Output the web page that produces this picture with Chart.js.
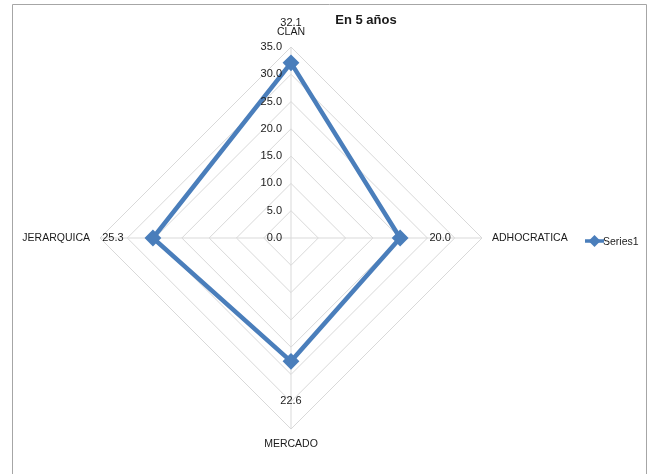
<!DOCTYPE html>
<html>
<head>
<meta charset="utf-8">
<script src="https://cdn.jsdelivr.net/npm/chart.js@4"></script>
<style>
  html, body { margin: 0; padding: 0; background: #ffffff; }
  #wrap { position: relative; width: 654px; height: 474px; }
</style>
</head>
<body>
<div id="wrap"><canvas id="c" width="654" height="474"></canvas></div>
<script>
// Culture profile axes and scores
const categories = ['CLAN', 'ADHOCRATICA', 'MERCADO', 'JERARQUICA'];
const series1 = [32.1, 20.0, 22.6, 25.3];
const seriesName = 'Series1';
const chartTitle = 'En 5 años';
const scaleMax = 35;
const scaleStep = 5;

const FONT = '"Liberation Sans", Arial, sans-serif';
const BLUE = '#4a7ebb';

// Frame, title, legend, tick labels, category labels and value labels
const decorations = {
  id: 'decorations',
  beforeDraw(chart) {
    const ctx = chart.ctx;
    ctx.save();
    ctx.fillStyle = '#ffffff';
    ctx.fillRect(0, 0, chart.width, chart.height);
    ctx.strokeStyle = '#a6a6a6';
    ctx.lineWidth = 1;
    ctx.beginPath();
    ctx.moveTo(12.5, chart.height);
    ctx.lineTo(12.5, 4.5);
    ctx.lineTo(646.5, 4.5);
    ctx.lineTo(646.5, chart.height);
    ctx.stroke();
    ctx.restore();
  },
  afterDatasetsDraw(chart) {
    const ctx = chart.ctx;
    const r = chart.scales.r;
    ctx.save();
    ctx.fillStyle = '#1a1a1a';

    // tick labels, to the left of the vertical axis
    ctx.font = '11px ' + FONT;
    ctx.textAlign = 'right';
    ctx.textBaseline = 'middle';
    r.ticks.forEach(t => {
      const d = r.getDistanceFromCenterForValue(t.value);
      ctx.fillText(t.value.toFixed(1), r.xCenter - 9, r.yCenter - d);
    });

    // category labels around the outer ring
    ctx.font = '10.5px ' + FONT;
    categories.forEach((lab, i) => {
      const p = r.getPointPosition(i, r.drawingArea + 10);
      const deg = Math.round((r.getIndexAngle(i) * 180 / Math.PI)) % 360;
      if (deg === 0) { ctx.textAlign = 'center'; ctx.textBaseline = 'bottom'; }
      else if (deg === 180) { ctx.textAlign = 'center'; ctx.textBaseline = 'top'; }
      else if (deg < 180) { ctx.textAlign = 'left'; ctx.textBaseline = 'middle'; }
      else { ctx.textAlign = 'right'; ctx.textBaseline = 'middle'; }
      ctx.fillText(lab, p.x, p.y);
    });

    // value labels, outward from each marker
    ctx.font = '11px ' + FONT;
    ctx.textAlign = 'center';
    ctx.textBaseline = 'middle';
    const meta = chart.getDatasetMeta(0);
    meta.data.forEach((pt, i) => {
      const d = r.getDistanceFromCenterForValue(series1[i]) + 40;
      const p = r.getPointPosition(i, d);
      ctx.fillText(series1[i].toFixed(1), p.x, p.y);
    });

    // title
    ctx.font = 'bold 13px ' + FONT;
    ctx.fillText(chartTitle, 366, 20);

    // legend entry
    const ly = 241;
    ctx.strokeStyle = BLUE;
    ctx.lineWidth = 3.5;
    ctx.beginPath();
    ctx.moveTo(585, ly);
    ctx.lineTo(604, ly);
    ctx.stroke();
    ctx.fillStyle = BLUE;
    ctx.beginPath();
    ctx.moveTo(594.5, ly - 6);
    ctx.lineTo(600.5, ly);
    ctx.lineTo(594.5, ly + 6);
    ctx.lineTo(588.5, ly);
    ctx.closePath();
    ctx.fill();
    ctx.fillStyle = '#1a1a1a';
    ctx.font = '10.5px ' + FONT;
    ctx.textAlign = 'left';
    ctx.fillText(seriesName, 603, ly + 1);
    ctx.restore();
  }
};

new Chart(document.getElementById('c'), {
  type: 'radar',
  data: {
    labels: categories,
    datasets: [{
      label: seriesName,
      data: series1,
      borderColor: BLUE,
      backgroundColor: 'rgba(0,0,0,0)',
      borderWidth: 4.5,
      pointStyle: 'rectRot',
      pointRadius: 7,
      pointBorderWidth: 2,
      pointBackgroundColor: BLUE,
      pointBorderColor: BLUE,
      fill: false,
      tension: 0
    }]
  },
  options: {
    responsive: false,
    animation: false,
    devicePixelRatio: 1,
    layout: { padding: { left: 100, right: 172, top: 47, bottom: 45 } },
    plugins: {
      legend: { display: false },
      title: { display: false },
      tooltip: { enabled: false }
    },
    scales: {
      r: {
        min: 0,
        max: scaleMax,
        beginAtZero: true,
        ticks: { display: false, stepSize: scaleStep },
        pointLabels: { display: false },
        grid: { color: '#d9d9d9', lineWidth: 1 },
        angleLines: { color: '#d9d9d9', lineWidth: 1 }
      }
    }
  },
  plugins: [decorations]
});
</script>
</body>
</html>
